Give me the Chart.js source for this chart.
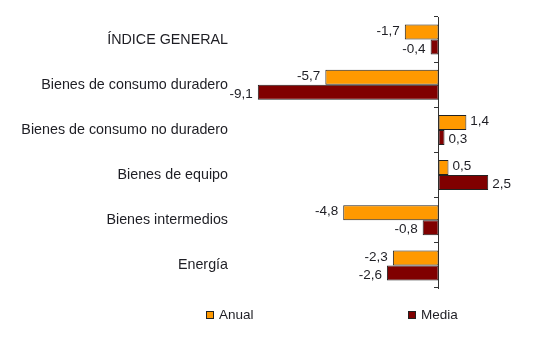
<!DOCTYPE html>
<html>
<head>
<meta charset="utf-8">
<script src="https://cdn.jsdelivr.net/npm/chart.js@4/dist/chart.umd.min.js"></script>
<style>
  body { margin: 0; background: #fff; }
</style>
</head>
<body>
<canvas id="myChart" width="535" height="352"></canvas>
<script>
const categories = [
    'ÍNDICE GENERAL',
    'Bienes de consumo duradero',
    'Bienes de consumo no duradero',
    'Bienes de equipo',
    'Bienes intermedios',
    'Energía'
];
const anual = [-1.7, -5.7, 1.4, 0.5, -4.8, -2.3];
const media = [-0.4, -9.1, 0.3, 2.5, -0.8, -2.6];
const seriesNames = ['Anual', 'Media'];

const FONT = "'Liberation Sans', Arial, sans-serif";
Chart.defaults.color = '#222';
Chart.defaults.font.family = FONT;

// value labels next to the end of each bar
const barLabels = {
    id: 'barLabels',
    afterDatasetsDraw(chart) {
        const ctx = chart.ctx;
        ctx.save();
        ctx.font = '13.5px ' + FONT;
        ctx.fillStyle = '#1e1e24';
        ctx.textBaseline = 'middle';
        chart.data.datasets.forEach((ds, i) => {
            const meta = chart.getDatasetMeta(i);
            meta.data.forEach((bar, j) => {
                const v = ds.data[j];
                const txt = v.toFixed(1).replace('.', ',');
                const dy = i === 0 ? -1 : 2;
                if (v < 0) {
                    ctx.textAlign = 'right';
                    ctx.fillText(txt, bar.x - 5, bar.y + dy);
                } else {
                    ctx.textAlign = 'left';
                    ctx.fillText(txt, bar.x + 4, bar.y + dy);
                }
            });
        });
        ctx.restore();
    }
};

// legend spread out under the chart
const spreadLegend = {
    id: 'spreadLegend',
    afterDraw(chart) {
        const ctx = chart.ctx;
        const xs = [206, 408];
        const y = chart.chartArea.bottom + 27;
        ctx.save();
        ctx.font = '13.5px ' + FONT;
        ctx.textBaseline = 'middle';
        ctx.textAlign = 'left';
        chart.data.datasets.forEach((ds, i) => {
            ctx.fillStyle = ds.backgroundColor;
            ctx.fillRect(xs[i], y - 4, 8, 8);
            ctx.strokeStyle = '#222';
            ctx.lineWidth = 1;
            ctx.strokeRect(xs[i] + 0.5, y - 3.5, 7, 7);
            ctx.fillStyle = '#1e1e24';
            ctx.fillText(ds.label, xs[i] + 13, y);
        });
        ctx.restore();
    }
};

let ctx = document.getElementById('myChart').getContext('2d');

let myChart = new Chart(ctx, {
    type: 'bar',
    data: {
        labels: categories,
        datasets: [{
            label: seriesNames[0],
            data: anual,
            backgroundColor: '#FF9900',
            borderColor: '#222',
            borderWidth: 1,
            borderSkipped: false,
            categoryPercentage: 0.664,
            barPercentage: 1
        }, {
            label: seriesNames[1],
            data: media,
            backgroundColor: '#800000',
            borderColor: '#222',
            borderWidth: 1,
            borderSkipped: false,
            categoryPercentage: 0.664,
            barPercentage: 1
        }]
    },
    options: {
        indexAxis: 'y',
        responsive: false,
        animation: false,
        layout: {
            padding: { top: 17, right: 17, bottom: 64, left: 0 }
        },
        plugins: {
            legend: { display: false },
            tooltip: { enabled: false }
        },
        scales: {
            x: {
                display: false,
                min: -10.4,
                max: 4
            },
            y: {
                position: 'left',
                grid: { display: false, drawTicks: false },
                border: { display: false },
                ticks: {
                    padding: 4,
                    color: '#1e1e24',
                    font: { size: 14.3, family: FONT }
                },
                afterFit(scale) {
                    scale.width = 232;
                }
            },
            y2: {
                axis: 'y',
                type: 'category',
                labels: categories,
                position: { x: 0 },
                offset: true,
                grid: {
                    offset: true,
                    drawOnChartArea: false,
                    drawTicks: true,
                    tickLength: 4,
                    color: '#333'
                },
                border: { display: true, color: '#333', width: 1 },
                ticks: { display: false }
            }
        }
    },
    plugins: [barLabels, spreadLegend]
});
</script>
</body>
</html>
